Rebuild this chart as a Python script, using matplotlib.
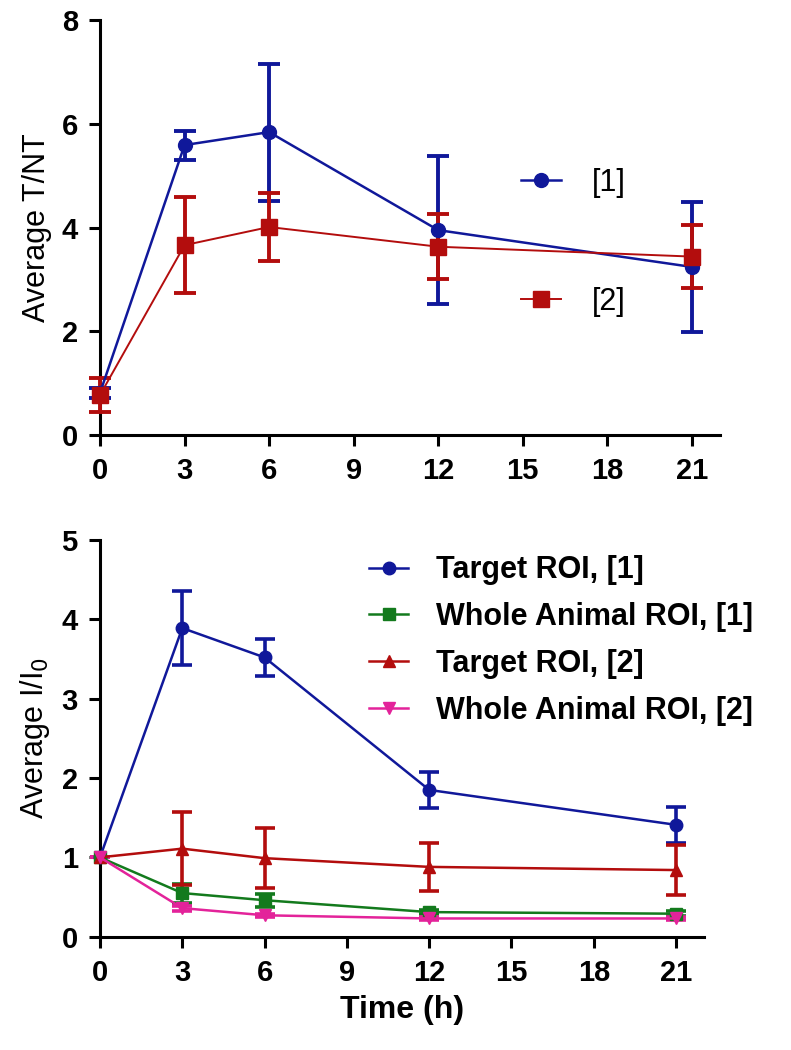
import matplotlib
matplotlib.use("Agg")
import matplotlib.pyplot as plt

plt.rcParams['font.family'] = ['Liberation Sans', 'DejaVu Sans']

# time points (h)
t = [0, 3, 6, 12, 21]

# top panel: average T/NT
tnt_1 = [0.81, 5.59, 5.84, 3.95, 3.24]
tnt_1_err = [0.1, 0.28, 1.32, 1.42, 1.26]
tnt_2 = [0.77, 3.66, 4.01, 3.63, 3.44]
tnt_2_err = [0.32, 0.93, 0.65, 0.63, 0.6]

# bottom panel: average I/I0
tgt_1 = [1.0, 3.89, 3.52, 1.85, 1.41]
tgt_1_err = [0.0, 0.47, 0.23, 0.23, 0.23]
whole_1 = [1.0, 0.55, 0.46, 0.31, 0.29]
whole_1_err = [0.0, 0.12, 0.08, 0.03, 0.03]
tgt_2 = [1.0, 1.11, 0.99, 0.88, 0.84]
tgt_2_err = [0.0, 0.46, 0.38, 0.3, 0.31]
whole_2 = [1.0, 0.36, 0.27, 0.23, 0.23]
whole_2_err = [0.0, 0.03, 0.02, 0.02, 0.02]

blue = '#10189a'
red = '#b30d0d'
green = '#137a1d'
pink = '#e3239a'

fig = plt.figure(figsize=(7.91, 10.5), dpi=100)
ax1 = fig.add_axes([0.1264, 0.5857, 0.784, 0.3952])
ax2 = fig.add_axes([0.1264, 0.1079, 0.763, 0.3778])


def style(ax):
    for s in ['top', 'right']:
        ax.spines[s].set_visible(False)
    for s in ['left', 'bottom']:
        ax.spines[s].set_linewidth(2.2)
    ax.tick_params(direction='out', length=8, width=2.2, labelsize=21, pad=8)
    for lab in ax.get_xticklabels() + ax.get_yticklabels():
        lab.set_fontweight('bold')
    ax.set_xlim(0, 22)
    ax.set_xticks([0, 3, 6, 9, 12, 15, 18, 21])


ax1.errorbar(t, tnt_1, yerr=tnt_1_err, color=blue, marker='o', ms=10, lw=1.8,
             elinewidth=2.8, capsize=8, capthick=2.8, label='[1]', clip_on=False, zorder=3)
ax1.errorbar(t, tnt_2, yerr=tnt_2_err, color=red, marker='s', ms=12, lw=1.4,
             elinewidth=2.8, capsize=8, capthick=2.8, label='[2]', clip_on=False, zorder=3)
ax1.set_ylim(0, 8)
ax1.set_yticks([0, 2, 4, 6, 8])
ax1.set_ylabel('Average T/NT', fontsize=22, labelpad=7)
style(ax1)
h, l = ax1.get_legend_handles_labels()
ax1.legend([x[0] for x in h], l, loc='upper left', bbox_to_anchor=(0.655, 0.68),
           frameon=False, fontsize=22, labelspacing=2.9, handlelength=1.3,
           handletextpad=1.0, borderpad=0)

ax2.errorbar(t, tgt_1, yerr=tgt_1_err, color=blue, marker='o', ms=9, lw=1.8,
             elinewidth=2.6, capsize=7, capthick=2.6, label='Target ROI, [1]', clip_on=False, zorder=3)
ax2.errorbar(t, whole_1, yerr=whole_1_err, color=green, marker='s', ms=9, lw=1.8,
             elinewidth=2.6, capsize=7, capthick=2.6, label='Whole Animal ROI, [1]', clip_on=False, zorder=3)
ax2.errorbar(t, tgt_2, yerr=tgt_2_err, color=red, marker='^', ms=9, lw=1.8,
             elinewidth=2.6, capsize=7, capthick=2.6, label='Target ROI, [2]', clip_on=False, zorder=3)
ax2.errorbar(t, whole_2, yerr=whole_2_err, color=pink, marker='v', ms=9, lw=1.8,
             elinewidth=2.6, capsize=7, capthick=2.6, label='Whole Animal ROI, [2]', clip_on=False, zorder=3)
ax2.set_ylim(0, 5)
ax2.set_yticks([0, 1, 2, 3, 4, 5])
ax2.set_ylabel('Average I/I$_0$', fontsize=22, labelpad=7)
ax2.set_xlabel('Time (h)', fontsize=23, fontweight='bold', labelpad=6)
style(ax2)
h, l = ax2.get_legend_handles_labels()
ax2.legend([x[0] for x in h], l, loc='upper left', bbox_to_anchor=(0.42, 1.0),
           frameon=False, labelspacing=0.55, handlelength=1.3,
           handletextpad=0.9, borderpad=0, prop={'weight': 'bold', 'size': 22})

fig.savefig('out.png', dpi=100)
